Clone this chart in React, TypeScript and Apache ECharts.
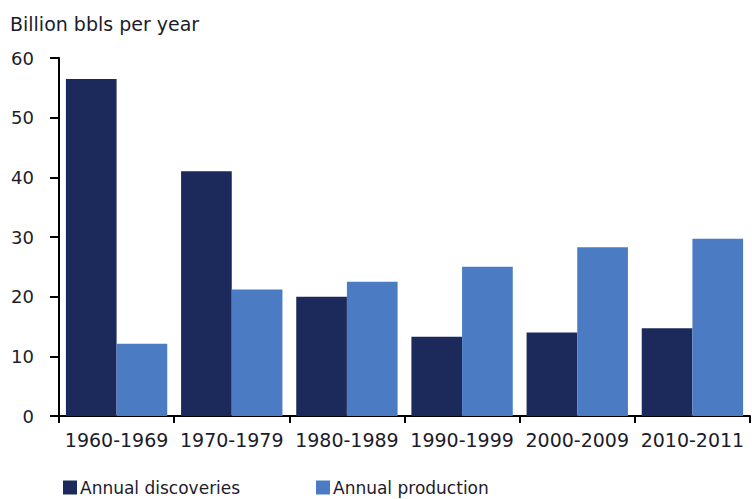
import React, { useEffect, useRef } from "react";
import * as echarts from "echarts";

const categories = ["1960-1969", "1970-1979", "1980-1989", "1990-1999", "2000-2009", "2010-2011"];
const discoveries = [56.5, 41, 20, 13.3, 14, 14.7];
const production = [12.1, 21.2, 22.5, 25, 28.3, 29.7];
const yTicks = { min: 0, max: 60, interval: 10 };

const FONT = "'DejaVu Sans', sans-serif";
const TEXT = "#1c1c2a";

export default function App() {
  const ref = useRef<HTMLDivElement>(null);
  useEffect(() => {
    if (!ref.current) return;
    const chart = echarts.init(ref.current, null, { renderer: "svg" });
    chart.setOption({
      animation: false,
      backgroundColor: "#ffffff",
      textStyle: { fontFamily: FONT },
      title: {
        text: "Billion bbls per year",
        left: 5,
        top: 9,
        textStyle: { fontFamily: FONT, fontSize: 19, fontWeight: "normal", color: TEXT },
      },
      legend: [
        {
          data: ["Annual discoveries"],
          left: 58,
          top: 474,
          itemWidth: 14,
          itemHeight: 14,
          itemGap: 4,
          icon: "rect",
          textStyle: { fontFamily: FONT, fontSize: 17, color: TEXT, padding: [0, 0, 0, -2] },
        },
        {
          data: ["Annual production"],
          left: 311,
          top: 474,
          itemWidth: 14,
          itemHeight: 14,
          icon: "rect",
          textStyle: { fontFamily: FONT, fontSize: 17, color: TEXT, padding: [0, 0, 0, -2] },
        },
      ],
      grid: { left: 59, right: 2, top: 58, bottom: 83, containLabel: false },
      xAxis: {
        type: "category",
        data: categories,
        axisLine: { show: true, lineStyle: { color: "#000", width: 2 } },
        axisTick: { show: true, alignWithLabel: false, length: 7, lineStyle: { color: "#000", width: 2 } },
        axisLabel: { color: TEXT, fontSize: 19, fontFamily: FONT, margin: 14, interval: 0 },
      },
      yAxis: {
        type: "value",
        min: yTicks.min,
        max: yTicks.max,
        interval: yTicks.interval,
        axisLine: { show: true, lineStyle: { color: "#000", width: 2 } },
        axisTick: { show: true, inside: false, length: 9, lineStyle: { color: "#000", width: 2 } },
        axisLabel: { color: TEXT, fontSize: 18, fontFamily: FONT, margin: 25 },
        splitLine: { show: false },
      },
      series: [
        {
          name: "Annual discoveries",
          type: "bar",
          data: discoveries,
          itemStyle: { color: "#1b2a5a" },
          barGap: "0%",
          barCategoryGap: "12%",
        },
        {
          name: "Annual production",
          type: "bar",
          data: production,
          itemStyle: { color: "#4a7bc3" },
          barGap: "0%",
          barCategoryGap: "12%",
        },
      ],
    });
    return () => chart.dispose();
  }, []);
  return (
    <div
      ref={ref}
      style={{ position: "fixed", left: 0, top: 0, width: 752, height: 499 }}
    />
  );
}
